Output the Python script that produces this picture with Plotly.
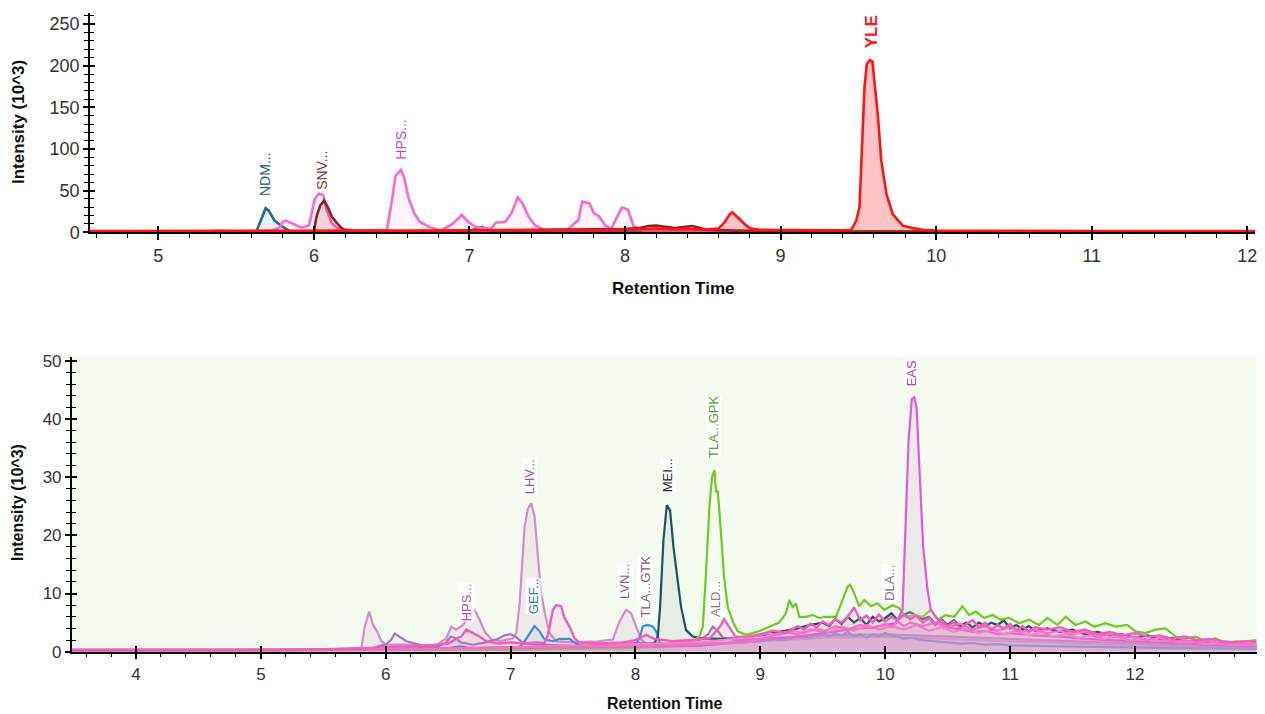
import plotly.graph_objects as go

# ---------------- TOP CHART DATA (retention time, intensity x10^3) ----------------
yle_rt = [4.56, 4.8, 5.0, 5.2, 5.4, 5.6, 5.8, 6.0, 6.2, 6.4,
          6.6, 6.8, 7.0, 7.2, 7.4, 7.6, 7.8, 8.0, 8.1, 8.2,
          8.3, 8.4, 8.5, 8.6, 8.64, 8.67, 8.69, 8.72, 8.75, 8.78,
          8.81, 8.86, 8.95, 9.1, 9.25, 9.4, 9.455, 9.486, 9.507, 9.524,
          9.539, 9.554, 9.574, 9.59, 9.607, 9.625, 9.647, 9.68, 9.72, 9.785,
          9.85, 9.91, 10.0, 10.3, 10.6, 11.0, 11.5, 12.05]
yle_int = [1.5, 1.5, 1.8, 1.5, 1.7, 1.6, 1.8, 1.5, 1.7, 1.8,
           1.5, 2.0, 2.2, 2.5, 2.2, 2.6, 2.3, 3.2, 4.0, 4.5,
           3.6, 4.2, 3.0, 4.5, 12, 21, 24, 19, 14, 8,
           4.5, 3.2, 2.8, 2.5, 2.2, 2.5, 3, 14, 30, 98,
           174, 202, 207, 205, 174, 140, 86, 46, 22, 8,
           5, 3, 2.2, 1.8, 1.6, 1.5, 1.6, 1.5]

hps_rt = [4.56, 5.0, 5.3, 5.4, 5.5, 5.6, 5.7, 5.735, 5.78, 5.80,
          5.82, 5.86, 5.88, 5.92, 5.97, 6.005, 6.03, 6.06, 6.08, 6.115,
          6.15, 6.25, 6.35, 6.47, 6.50, 6.525, 6.56, 6.58, 6.61, 6.645,
          6.68, 6.74, 6.815, 6.89, 6.95, 6.99, 7.04, 7.135, 7.17, 7.23,
          7.27, 7.31, 7.34, 7.38, 7.42, 7.48, 7.63, 7.70, 7.725, 7.77,
          7.80, 7.835, 7.87, 7.91, 7.945, 7.98, 8.02, 8.055, 8.12, 8.5,
          9.0, 10.0, 11.0, 12.05]
hps_int = [1.0, 1.0, 1.2, 2.0, 1.2, 1.5, 1.5, 2.0, 6.0, 12.7,
           14, 10.6, 9.7, 5.5, 8.5, 40, 46, 45, 27.5, 10.6,
           5.5, 2.0, 2.5, 3.0, 36, 68, 75, 65.7, 40, 23,
           12.7, 6.4, 2.0, 9.7, 21, 12.7, 6.4, 4.2, 11.4, 12.7,
           23, 42, 35, 19, 8.5, 3.0, 3.0, 14.8, 37, 35,
           23, 19, 8.5, 4.2, 17, 30, 27, 7.2, 2.0, 1.2,
           1.0, 0.8, 0.8, 0.8]

snv_rt = [4.56, 5.5, 6.0, 6.017, 6.04, 6.066, 6.09, 6.115, 6.147, 6.19,
          6.25, 6.6, 7.0, 7.4, 7.8, 8.0, 8.1, 8.15, 8.2, 8.25,
          8.32, 8.39, 8.43, 8.46, 8.52, 8.7, 9.0, 10.0, 12.05]
snv_int = [0.8, 0.8, 1.0, 19, 32, 38, 30, 19, 11.4, 3.0,
           1.5, 1.5, 2.0, 2.5, 3.0, 4.0, 5.5, 7.5, 8.0, 6.5,
           5.0, 6.5, 7.5, 6.5, 3.0, 2.0, 1.0, 0.8, 0.8]

ndm_rt = [4.56, 5.5, 5.6, 5.63, 5.66, 5.69, 5.71, 5.747, 5.80, 5.845,
          5.9, 6.2, 6.6, 7.0, 7.04, 7.08, 7.11, 7.15, 7.5, 8.0,
          9.0, 10.0, 12.05]
ndm_int = [0.5, 0.5, 0.8, 1.0, 14.8, 29, 26, 14, 6.4, 1.5,
           1.2, 1.5, 1.0, 1.5, 4.0, 6.5, 4.0, 1.5, 1.0, 0.8,
           0.8, 0.5, 0.5]

top_labels = ["NDM...", "SNV...", "HPS...", "YLE"]
top_label_rt = [5.69, 6.05, 6.56, 9.585]
top_label_base = [42, 50, 86, 220]
top_label_colors = ["#1d5a86", "#8a2a2a", "#c451a4", "#ff1414"]

# ---------------- BOTTOM CHART DATA ----------------
lhv_rt = [3.485, 4.5, 5.5, 5.805, 5.832, 5.867, 5.899, 5.93, 5.965, 6.005,
          6.2, 6.4, 6.485, 6.525, 6.565, 6.619, 6.672, 6.712, 6.752, 6.792,
          6.845, 6.912, 7.019, 7.045, 7.072, 7.112, 7.139, 7.165, 7.192, 7.219,
          7.245, 7.28, 7.312, 7.365, 7.5, 7.7, 7.819, 7.872, 7.925, 7.965,
          8.005, 8.045, 8.1, 8.5, 9.0, 9.5, 10.0, 10.5, 11.0, 11.5,
          12.0, 12.5, 12.975]
lhv_int = [0.3, 0.3, 0.4, 0.6, 4.3, 6.9, 4.6, 3.5, 1.8, 1.2,
           1.2, 1.0, 2.3, 4.3, 3.8, 4.6, 6.3, 7.2, 5.5, 3.5,
           2.1, 1.8, 2.3, 3.2, 8.3, 21.5, 24.6, 25.5, 23.2, 16.3,
           10.0, 6.0, 3.2, 1.8, 1.6, 1.8, 2.1, 5.2, 7.2, 6.6,
           4.3, 2.1, 1.2, 1.4, 1.8, 2.4, 2.6, 2.2, 1.8, 1.4,
           1.0, 0.8, 0.6]

mauve_rt = [3.485, 5.0, 5.5, 5.9, 5.95, 6.0, 6.045, 6.072, 6.112, 6.165,
            6.22, 6.3, 6.4, 6.48, 6.52, 6.56, 6.6, 6.7, 6.8, 6.9,
            6.95, 7.0, 7.04, 7.1, 7.2, 7.5, 7.8, 8.0, 8.3, 8.5,
            8.58, 8.62, 8.66, 8.7, 8.8, 9.0, 9.5, 10.0, 10.5, 11.0,
            11.5, 12.0, 12.5, 12.975]
mauve_int = [0.3, 0.3, 0.4, 0.6, 1.0, 1.2, 2.1, 3.1, 2.5, 1.8,
             1.5, 1.0, 0.8, 1.5, 2.6, 2.3, 1.6, 1.2, 1.6, 2.2,
             2.8, 3.0, 2.6, 1.5, 1.2, 1.0, 1.2, 1.5, 1.4, 1.8,
             3.0, 4.3, 3.6, 2.4, 2.0, 2.2, 2.8, 3.0, 2.6, 2.2,
             1.8, 1.4, 1.0, 0.8]

gef_rt = [3.485, 5.0, 6.0, 6.2, 6.5, 6.6, 6.7, 7.0, 7.072, 7.112,
          7.152, 7.192, 7.232, 7.272, 7.339, 7.392, 7.472, 7.525, 7.6, 7.9,
          8.0, 8.032, 8.059, 8.099, 8.139, 8.165, 8.2, 8.4, 8.6, 8.8,
          9.0, 9.1, 9.2, 9.3, 9.4, 9.5, 9.55, 9.6, 9.65, 9.7,
          9.75, 9.8, 9.85, 9.9, 9.95, 10.0, 10.05, 10.1, 10.15, 10.2,
          10.3, 10.4, 10.5, 10.6, 10.7, 10.8, 10.9, 11.0, 11.2, 11.4,
          11.6, 11.8, 12.0, 12.3, 12.6, 12.975]
gef_int = [0.2, 0.2, 0.3, 0.5, 0.6, 0.9, 0.5, 0.4, 0.8, 1.8,
           3.2, 4.4, 3.5, 2.1, 1.8, 2.2, 2.2, 1.4, 0.8, 0.8,
           1.2, 2.3, 4.4, 4.6, 4.3, 3.5, 1.2, 1.0, 1.2, 1.5,
           1.8, 2.2, 2.0, 2.6, 2.4, 3.0, 2.6, 3.2, 2.8, 3.4,
           2.6, 3.0, 2.4, 3.0, 2.6, 3.2, 2.8, 2.6, 2.2, 2.4,
           2.0, 1.8, 1.6, 1.4, 1.5, 1.2, 1.3, 1.1, 1.0, 0.9,
           0.8, 0.8, 0.7, 0.6, 0.6, 0.5]

mei_rt = [3.485, 5.5, 6.0, 7.0, 7.5, 8.0, 8.15, 8.179, 8.197, 8.224,
          8.251, 8.277, 8.304, 8.331, 8.365, 8.405, 8.459, 8.525, 8.7, 8.85,
          9.0, 9.1, 9.2, 9.3, 9.4, 9.5, 9.55, 9.6, 9.65, 9.7,
          9.75, 9.8, 9.85, 9.9, 9.95, 10.0, 10.05, 10.1, 10.15, 10.2,
          10.25, 10.3, 10.35, 10.4, 10.45, 10.5, 10.55, 10.6, 10.65, 10.7,
          10.75, 10.8, 10.85, 10.9, 10.95, 11.0, 11.05, 11.1, 11.15, 11.2,
          11.3, 11.4, 11.5, 11.6, 11.7, 11.8, 11.9, 12.0, 12.1, 12.2,
          12.3, 12.4, 12.5, 12.6, 12.7, 12.8, 12.975]
mei_int = [0.2, 0.3, 0.5, 0.6, 0.8, 1.0, 1.4, 2.6, 7.7, 19.2,
           25.2, 24.3, 18.0, 13.5, 7.7, 3.7, 2.6, 2.3, 2.2, 2.4,
           2.8, 3.2, 3.6, 4.0, 4.6, 5.0, 4.4, 5.6, 4.8, 6.0,
           5.0, 5.8, 4.6, 6.0, 5.2, 5.8, 6.6, 5.4, 6.4, 6.8,
           6.2, 5.6, 6.0, 4.8, 5.6, 4.6, 5.4, 4.4, 5.0, 4.2,
           5.0, 4.4, 5.0, 4.6, 5.4, 4.0, 4.6, 3.8, 4.4, 3.6,
           4.0, 3.4, 3.8, 3.0, 3.4, 2.8, 3.0, 2.4, 2.8, 2.2,
           2.4, 1.8, 1.9, 1.5, 1.4, 1.2, 1.0]

eas_rt = [3.485, 6.0, 7.0, 8.0, 8.5, 9.0, 9.3, 9.5, 9.7, 9.9,
          10.0, 10.085, 10.139, 10.16, 10.187, 10.213, 10.232, 10.251, 10.277, 10.304,
          10.339, 10.365, 10.405, 10.45, 10.5, 10.6, 10.7, 10.8, 10.9, 11.0,
          11.2, 11.4, 11.6, 11.8, 12.0, 12.3, 12.6, 12.975]
eas_int = [0.2, 0.3, 0.6, 0.8, 1.0, 2.0, 2.6, 3.2, 3.8, 4.2,
           4.6, 4.9, 7.2, 19.2, 36.3, 43.4, 43.7, 42.0, 30.6, 18.0,
           10.6, 7.2, 6.0, 5.0, 4.2, 3.8, 3.4, 3.6, 3.0, 3.2,
           2.8, 2.6, 2.2, 2.0, 1.8, 1.5, 1.2, 1.0]

pinka_rt = [3.485, 5.0, 5.8, 6.0, 6.3, 6.5, 6.58, 6.605, 6.645, 6.699,
            6.752, 6.805, 6.9, 7.0, 7.1, 7.2, 7.272, 7.299, 7.339, 7.365,
            7.405, 7.432, 7.472, 7.512, 7.55, 7.7, 7.9, 8.0, 8.085, 8.15,
            8.3, 8.45, 8.6, 8.68, 8.71, 8.74, 8.8, 8.9, 9.0, 9.1,
            9.2, 9.3, 9.35, 9.4, 9.45, 9.5, 9.55, 9.6, 9.65, 9.7,
            9.75, 9.8, 9.85, 9.9, 9.95, 10.0, 10.05, 10.1, 10.15, 10.2,
            10.25, 10.3, 10.35, 10.4, 10.45, 10.5, 10.55, 10.6, 10.65, 10.7,
            10.75, 10.8, 10.85, 10.9, 10.95, 11.0, 11.05, 11.1, 11.15, 11.2,
            11.3, 11.4, 11.5, 11.6, 11.7, 11.8, 11.9, 12.0, 12.1, 12.2,
            12.3, 12.4, 12.5, 12.6, 12.7, 12.8, 12.9, 12.975]
pinka_int = [0.3, 0.3, 0.5, 0.8, 1.0, 1.4, 2.4, 2.6, 3.8, 3.2,
             2.6, 1.8, 1.4, 1.6, 1.4, 1.6, 1.5, 2.9, 7.2, 8.0,
             7.8, 5.8, 4.3, 2.3, 1.6, 1.4, 1.6, 2.0, 2.9, 2.2,
             1.8, 2.0, 2.4, 4.4, 5.6, 4.6, 2.6, 2.6, 3.0, 3.6,
             3.2, 4.4, 3.8, 4.8, 4.2, 5.2, 4.6, 5.6, 5.0, 6.0,
             7.6, 5.4, 6.2, 5.0, 6.4, 5.2, 6.0, 5.4, 6.4, 5.6,
             6.2, 5.0, 5.8, 4.6, 5.4, 4.4, 5.2, 4.0, 4.8, 5.4,
             4.2, 5.0, 3.8, 4.6, 4.0, 4.8, 3.6, 4.4, 3.4, 4.2,
             3.8, 4.2, 3.4, 3.8, 3.0, 3.4, 2.8, 3.2, 2.6, 2.8,
             2.2, 2.6, 2.0, 2.2, 1.8, 1.6, 1.8, 1.6]

pinkb_rt = [3.485, 6.0, 7.0, 8.0, 8.5, 8.9, 9.0, 9.1, 9.2, 9.3,
            9.4, 9.5, 9.6, 9.7, 9.8, 9.9, 10.0, 10.05, 10.1, 10.15,
            10.2, 10.3, 10.4, 10.5, 10.6, 10.7, 10.8, 10.9, 11.0, 11.1,
            11.2, 11.3, 11.4, 11.5, 11.6, 11.7, 11.8, 11.9, 12.0, 12.1,
            12.2, 12.3, 12.4, 12.5, 12.6, 12.7, 12.8, 12.975]
pinkb_int = [0.2, 0.4, 0.8, 1.0, 1.3, 1.6, 2.2, 2.8, 3.4, 3.0,
             3.8, 3.4, 4.4, 3.8, 4.6, 4.0, 4.8, 4.2, 5.2, 4.4,
             5.0, 4.4, 5.0, 4.2, 4.8, 3.8, 4.4, 3.6, 4.2, 3.4,
             3.8, 3.2, 3.6, 3.0, 3.4, 2.6, 3.0, 2.4, 2.6, 2.0,
             2.4, 1.8, 2.0, 1.6, 1.8, 1.4, 1.5, 1.2]

pinkc_rt = [3.485, 6.5, 7.5, 8.2, 8.6, 8.8, 8.95, 9.05, 9.15, 9.25,
            9.35, 9.45, 9.55, 9.65, 9.75, 9.85, 9.95, 10.05, 10.15, 10.25,
            10.35, 10.45, 10.55, 10.65, 10.75, 10.85, 10.95, 11.05, 11.15, 11.25,
            11.35, 11.45, 11.55, 11.65, 11.75, 11.85, 11.95, 12.05, 12.15, 12.25,
            12.35, 12.45, 12.55, 12.65, 12.75, 12.85, 12.975]
pinkc_int = [0.3, 0.5, 1.0, 1.4, 1.8, 2.2, 2.6, 3.2, 2.8, 3.6,
             3.2, 4.0, 3.4, 4.4, 3.6, 4.6, 3.8, 4.4, 3.8, 4.6,
             3.6, 4.2, 3.4, 4.0, 3.2, 3.8, 3.0, 3.6, 2.8, 3.4,
             2.6, 3.0, 2.4, 2.8, 2.2, 2.6, 2.0, 2.2, 1.8, 2.0,
             1.6, 1.8, 1.4, 1.5, 1.2, 1.3, 1.1]

gpk_rt = [3.485, 7.0, 8.0, 8.4, 8.512, 8.539, 8.565, 8.592, 8.613, 8.632,
          8.645, 8.659, 8.685, 8.712, 8.739, 8.779, 8.819, 8.885, 8.939, 9.0,
          9.072, 9.15, 9.205, 9.232, 9.259, 9.285, 9.312, 9.365, 9.419, 9.472,
          9.525, 9.605, 9.659, 9.699, 9.72, 9.752, 9.792, 9.832, 9.885, 9.939,
          9.992, 10.059, 10.112, 10.165, 10.232, 10.299, 10.365, 10.419, 10.485, 10.552,
          10.619, 10.672, 10.725, 10.792, 10.859, 10.925, 10.992, 11.072, 11.152, 11.232,
          11.299, 11.379, 11.445, 11.525, 11.605, 11.672, 11.765, 11.845, 11.939, 12.005,
          12.085, 12.165, 12.245, 12.325, 12.405, 12.485, 12.565, 12.645, 12.725, 12.805,
          12.885, 12.975]
gpk_int = [0.2, 0.3, 0.6, 1.0, 2.6, 4.3, 13.5, 24.9, 30.0, 31.2,
           27.4, 27.7, 20.3, 12.3, 7.7, 5.2, 3.5, 2.9, 3.2, 3.6,
           4.3, 5.0, 6.6, 8.9, 7.7, 8.3, 6.0, 6.0, 6.3, 5.8,
           6.0, 6.0, 8.9, 11.2, 11.5, 10.0, 7.8, 8.9, 7.8, 8.3,
           7.2, 8.0, 7.5, 6.0, 6.3, 6.0, 7.2, 5.5, 6.3, 6.0,
           7.8, 6.3, 6.9, 5.8, 6.3, 5.5, 5.8, 4.9, 5.5, 4.6,
           5.8, 4.6, 6.0, 4.6, 5.2, 4.3, 4.9, 4.3, 4.6, 3.5,
           3.2, 3.8, 4.0, 2.6, 2.3, 2.6, 1.8, 2.3, 1.5, 1.8,
           1.8, 2.0]

bot_labels = ["HPS...", "GEF...", "LHV...", "LVN...", "TLA...GTK", "MEI...",
              "TLA...GPK", "ALD...", "DLA...", "EAS"]
bot_label_rt = [6.645, 7.18, 7.152, 7.912, 8.08, 8.259, 8.624, 8.645, 10.032, 10.213]
bot_label_base = [5.1, 6.3, 26.9, 8.9, 5.8, 27.2, 33.2, 5.8, 8.6, 45.4]
bot_label_colors = ["#b4589c", "#2f80c4", "#9c5c92", "#8c5c98", "#7c5c8c", "#1c2c38",
                    "#5c9c30", "#8c7c8c", "#8c6c8c", "#a844a8"]

FONT = "Arial, Liberation Sans, sans-serif"

fig = go.Figure()


def add(rt, inten, color, fill, xa, ya, width=2.6):
    fig.add_trace(go.Scatter(
        x=rt, y=inten, mode="lines",
        line=dict(color=color, width=width),
        fill="tozeroy" if fill else None, fillcolor=fill,
        xaxis=xa, yaxis=ya, hoverinfo="skip", showlegend=False))


# top traces
add(ndm_rt, ndm_int, "#1f6a9c", "rgba(31,106,156,0.10)", "x", "y")
add(hps_rt, hps_int, "#ff66cc", "rgba(255,102,204,0.08)", "x", "y")
add(snv_rt, snv_int, "#8b2323", "rgba(139,35,35,0.15)", "x", "y")
add(yle_rt, yle_int, "#ff1414", "rgba(255,20,20,0.25)", "x", "y")

# bottom traces
add(lhv_rt, lhv_int, "#d48ccc", "rgba(205,180,205,0.22)", "x2", "y2", 2.2)
add(mauve_rt, mauve_int, "#a47ab4", "rgba(170,130,180,0.10)", "x2", "y2", 2.2)
add(gef_rt, gef_int, "#3a8edc", "rgba(58,142,220,0.08)", "x2", "y2", 2.2)
add(mei_rt, mei_int, "#1b5363", "rgba(160,175,175,0.18)", "x2", "y2", 2.2)
add(gpk_rt, gpk_int, "#6ccc1e", None, "x2", "y2", 2.2)
add(eas_rt, eas_int, "#e05ad8", "rgba(215,200,215,0.30)", "x2", "y2", 2.2)
add(pinkc_rt, pinkc_int, "#f28ad2", "rgba(244,150,210,0.18)", "x2", "y2", 2.2)
add(pinkb_rt, pinkb_int, "#f472c8", "rgba(244,114,200,0.10)", "x2", "y2", 2.2)
add(pinka_rt, pinka_int, "#f45cbc", "rgba(244,92,188,0.10)", "x2", "y2", 2.4)

# invisible traces to host overlay tick axes
fig.add_trace(go.Scatter(x=[None], y=[None], xaxis="x3", yaxis="y3", showlegend=False))
fig.add_trace(go.Scatter(x=[None], y=[None], xaxis="x4", yaxis="y4", showlegend=False))

TOP_X = [0.07115, 0.99209]
TOP_Y = [0.67465, 0.98137]
BOT_X = [0.05668, 0.99344]
BOT_Y = [0.08725, 0.50042]
TOP_XR = [4.561, 12.049]
TOP_YR = [0, 263]
BOT_XR = [3.485, 12.975]
BOT_YR = [0, 50.7]

base = dict(showgrid=False, zeroline=False, tickcolor="black", tickwidth=1.5,
            automargin=False)

fig.update_layout(
    width=1265, height=714,
    margin=dict(l=0, r=0, t=0, b=0, autoexpand=False),
    paper_bgcolor="white", plot_bgcolor="rgba(0,0,0,0)",
    font=dict(family=FONT, color="#333"),
    showlegend=False,
    xaxis=dict(base, domain=TOP_X, range=TOP_XR, anchor="y", tick0=5, dtick=1,
               showline=True, linecolor="black", linewidth=1.5,
               ticks="outside", ticklen=6, tickfont=dict(size=18, color="#333"),
               minor=dict(dtick=0.2, tick0=5, ticks="outside", ticklen=4,
                          tickcolor="black", tickwidth=1)),
    yaxis=dict(base, domain=TOP_Y, range=TOP_YR, anchor="x", tick0=0, dtick=50,
               showline=True, linecolor="black", linewidth=1.5,
               ticks="outside", ticklen=5, tickfont=dict(size=18, color="#333"),
               minor=dict(dtick=10, tick0=0, ticks="outside", ticklen=4,
                          tickcolor="black", tickwidth=1)),
    xaxis3=dict(base, domain=TOP_X, range=TOP_XR, anchor="y", overlaying="x",
                tick0=5, dtick=1, ticks="inside", ticklen=6, showticklabels=False,
                showline=False),
    yaxis3=dict(base, domain=TOP_Y, range=TOP_YR, anchor="x", overlaying="y",
                tick0=0, dtick=50, ticks="inside", ticklen=5, showticklabels=False,
                showline=False,
                minor=dict(dtick=10, tick0=0, ticks="inside", ticklen=4,
                           tickcolor="black", tickwidth=1)),
    xaxis2=dict(base, domain=BOT_X, range=BOT_XR, anchor="y2", tick0=4, dtick=1,
                showline=True, linecolor="black", linewidth=1.5,
                ticks="outside", ticklen=6, tickfont=dict(size=17, color="#333"),
                minor=dict(dtick=0.2, tick0=4, ticks="outside", ticklen=4,
                           tickcolor="black", tickwidth=1)),
    yaxis2=dict(base, domain=BOT_Y, range=BOT_YR, anchor="x2", tick0=0, dtick=10,
                showline=True, linecolor="black", linewidth=1.5,
                ticks="outside", ticklen=5, tickfont=dict(size=17, color="#333"),
                minor=dict(dtick=2, tick0=0, ticks="outside", ticklen=4,
                           tickcolor="black", tickwidth=1)),
    xaxis4=dict(base, domain=BOT_X, range=BOT_XR, anchor="y2", overlaying="x2",
                tick0=4, dtick=1, ticks="inside", ticklen=6, showticklabels=False,
                showline=False),
    yaxis4=dict(base, domain=BOT_Y, range=BOT_YR, anchor="x2", overlaying="y2",
                tick0=0, dtick=10, ticks="inside", ticklen=5, showticklabels=False,
                showline=False,
                minor=dict(dtick=2, tick0=0, ticks="inside", ticklen=4,
                           tickcolor="black", tickwidth=1)),
    shapes=[dict(type="rect", xref="x2 domain", yref="y2 domain", x0=0, x1=1,
                 y0=0, y1=1, fillcolor="#f5faf0", line=dict(width=0), layer="below")],
)

ann = []
# axis titles
ann.append(dict(text="<b>Intensity (10^3)</b>", xref="paper", yref="paper",
                x=18 / 1265, y=1 - 122 / 714, textangle=-90, showarrow=False,
                xanchor="center", yanchor="middle",
                font=dict(size=17, color="#111", family=FONT)))
ann.append(dict(text="<b>Retention Time</b>", xref="paper", yref="paper",
                x=673 / 1265, y=1 - 288 / 714, showarrow=False,
                xanchor="center", yanchor="middle",
                font=dict(size=17, color="#111", family=FONT)))
ann.append(dict(text="<b>Intensity (10^3)</b>", xref="paper", yref="paper",
                x=17 / 1265, y=1 - 503 / 714, textangle=-90, showarrow=False,
                xanchor="center", yanchor="middle",
                font=dict(size=16, color="#111", family=FONT)))
ann.append(dict(text="<b>Retention Time</b>", xref="paper", yref="paper",
                x=664 / 1265, y=1 - 703 / 714, showarrow=False,
                xanchor="center", yanchor="middle",
                font=dict(size=16, color="#111", family=FONT)))

for i, t in enumerate(top_labels):
    bold = t == "YLE"
    ann.append(dict(text=("<b>%s</b>" % t) if bold else t, x=top_label_rt[i],
                    y=top_label_base[i], xref="x", yref="y", textangle=-90,
                    xanchor="center", yanchor="bottom", showarrow=False,
                    borderpad=0,
                    font=dict(size=17 if bold else 14, color=top_label_colors[i],
                              family=FONT)))
for i, t in enumerate(bot_labels):
    ann.append(dict(text=t, x=bot_label_rt[i], y=bot_label_base[i],
                    xref="x2", yref="y2", textangle=-90, xanchor="center",
                    yanchor="bottom", showarrow=False, borderpad=0,
                    bgcolor="rgba(255,255,255,0.7)",
                    font=dict(size=13, color=bot_label_colors[i], family=FONT)))
fig.update_layout(annotations=ann)

fig.write_html("out.html", config={"displayModeBar": False},
               post_script="document.body.style.margin='0';")
